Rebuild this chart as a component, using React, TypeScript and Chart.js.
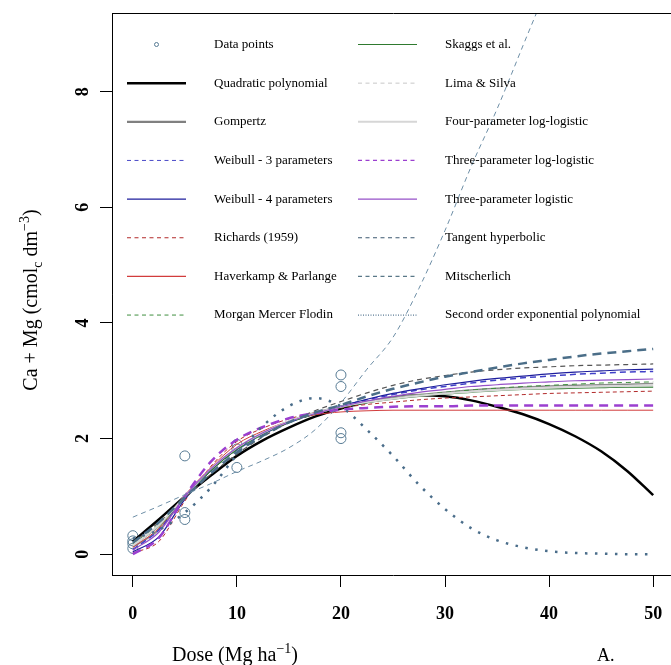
import React, { useEffect, useRef } from "react";
import { Chart, registerables } from "chart.js";

Chart.register(...registerables);

// ---------- data ----------
const doses = [0, 2.5, 5, 7.5, 10, 12.5, 15, 17.5, 20, 22.5, 25, 27.5, 30, 32.5, 35, 37.5, 40, 42.5, 45, 47.5, 50];

const obsDose = [0, 0, 0, 0, 5, 5, 5, 10, 10, 10, 20, 20, 20, 20];
const obsValue = [0.1, 0.18, 0.23, 0.32, 0.6, 0.72, 1.7, 1.5, 1.82, 1.9, 2.0, 2.1, 2.9, 3.1];

const xTicks = [0, 10, 20, 30, 40, 50];
const yTicks = [0, 2, 4, 6, 8];

const quadratic = [0.22, 0.6, 1.0, 1.36, 1.7, 1.97, 2.19, 2.38, 2.52, 2.63, 2.71, 2.75, 2.73, 2.66, 2.55, 2.42, 2.25, 2.04, 1.78, 1.44, 1.02];
const gompertz = [0.12, 0.42, 0.98, 1.45, 1.82, 2.1, 2.3, 2.45, 2.56, 2.64, 2.71, 2.76, 2.8, 2.84, 2.87, 2.89, 2.91, 2.92, 2.93, 2.94, 2.95];
const weibull3 = [0.08, 0.42, 1.0, 1.45, 1.8, 2.07, 2.28, 2.43, 2.56, 2.67, 2.76, 2.84, 2.9, 2.96, 3.01, 3.05, 3.08, 3.11, 3.13, 3.15, 3.16];
const weibull4 = [0.04, 0.3, 0.95, 1.45, 1.82, 2.08, 2.28, 2.43, 2.56, 2.68, 2.78, 2.86, 2.93, 2.99, 3.04, 3.08, 3.12, 3.15, 3.17, 3.19, 3.2];
const richards = [0.02, 0.22, 0.92, 1.52, 1.95, 2.18, 2.34, 2.45, 2.53, 2.59, 2.63, 2.67, 2.7, 2.72, 2.74, 2.76, 2.78, 2.79, 2.8, 2.81, 2.82];
const haverkamp = [0.12, 0.45, 1.02, 1.5, 1.9, 2.13, 2.3, 2.41, 2.46, 2.48, 2.49, 2.49, 2.49, 2.49, 2.49, 2.49, 2.49, 2.49, 2.49, 2.49, 2.49];
const mmf = [0.18, 0.52, 1.0, 1.44, 1.8, 2.07, 2.27, 2.42, 2.55, 2.63, 2.7, 2.75, 2.8, 2.84, 2.87, 2.9, 2.92, 2.94, 2.96, 2.97, 2.98];
const skaggs = [0.15, 0.48, 0.98, 1.45, 1.82, 2.09, 2.29, 2.43, 2.54, 2.62, 2.68, 2.73, 2.77, 2.8, 2.83, 2.85, 2.86, 2.87, 2.88, 2.89, 2.89];
const limaSilva = [0.2, 0.55, 0.97, 1.38, 1.73, 2.03, 2.28, 2.48, 2.64, 2.79, 2.92, 3.02, 3.09, 3.15, 3.19, 3.22, 3.24, 3.26, 3.27, 3.28, 3.29];
const fourPLL = [0.15, 0.5, 1.0, 1.48, 1.84, 2.1, 2.3, 2.44, 2.55, 2.63, 2.69, 2.74, 2.78, 2.81, 2.84, 2.86, 2.88, 2.89, 2.9, 2.91, 2.92];
const threePLL = [0.0, 0.28, 1.0, 1.6, 1.98, 2.2, 2.35, 2.44, 2.5, 2.53, 2.55, 2.56, 2.56, 2.57, 2.57, 2.57, 2.57, 2.57, 2.57, 2.57, 2.57];
const threePL = [0.07, 0.38, 1.0, 1.48, 1.84, 2.1, 2.29, 2.43, 2.55, 2.65, 2.73, 2.8, 2.85, 2.9, 2.93, 2.96, 2.98, 3.0, 3.01, 3.02, 3.03];
const tangentHyp = [0.2, 0.55, 0.98, 1.4, 1.76, 2.05, 2.28, 2.45, 2.58, 2.73, 2.86, 2.97, 3.07, 3.15, 3.23, 3.3, 3.36, 3.42, 3.47, 3.51, 3.55];
const mitscherlich = [0.64, 0.83, 1.03, 1.22, 1.43, 1.62, 1.84, 2.15, 2.62, 3.2, 3.75, 4.6, 5.6, 6.7, 7.7, 8.8, 9.9, 11.1, null, null, null];
const expPoly2 = [0.27, 0.42, 0.72, 1.15, 1.72, 2.22, 2.56, 2.7, 2.55, 2.15, 1.7, 1.2, 0.78, 0.45, 0.24, 0.12, 0.05, 0.02, 0.01, 0.0, 0.0];

const modelNames = [
  "Quadratic polynomial",
  "Gompertz",
  "Weibull - 3 parameters",
  "Weibull - 4 parameters",
  "Richards (1959)",
  "Haverkamp & Parlange",
  "Morgan Mercer Flodin",
  "Skaggs et al.",
  "Lima & Silva",
  "Four-parameter log-logistic",
  "Three-parameter log-logistic",
  "Three-parameter logistic",
  "Tangent hyperbolic",
  "Mitscherlich",
  "Second order exponential polynomial",
];
const modelValues = [quadratic, gompertz, weibull3, weibull4, richards, haverkamp, mmf, skaggs, limaSilva, fourPLL, threePLL, threePL, tangentHyp, mitscherlich, expPoly2];

// ---------- styles ----------
const pointColor = "#567a93";
const plotColors = ["#000000", "#8c8c8c", "#4040c8", "#1e1e9c", "#b22a2a", "#d23c3c", "#3e8e3e", "#2f7a2f", "#555555", "#d6d6d6", "#9b3fd0", "#9650c8", "#4b6e88", "#6d8ea6", "#4a6d8a"];
const plotWidths = [2.5, 1.5, 1.5, 1.2, 1, 1, 1, 1.2, 1.2, 2, 2.5, 1.2, 2.5, 1, 2.5];
const plotDashes = [[], [], [6, 4], [], [4, 3], [], [5, 4], [], [5, 4], [], [9, 6], [], [9, 6], [5, 4], [2.5, 7.5]];
const legendColors = ["#000000", "#808080", "#4a4ac8", "#1e1e9c", "#b22a2a", "#d23c3c", "#3e8e3e", "#2f7a2f", "#c8c8c8", "#d6d6d6", "#9b3fd0", "#9650c8", "#3e5a72", "#5a7888", "#5a7a94"];
const legendWidths = [2.5, 2.2, 1, 1.2, 1, 1.3, 1, 1.2, 1, 2, 1.3, 1.3, 1.2, 1.2, 1.2];
const legendDashes = [[], [], [4, 3.5], [], [4, 3.5], [], [4, 3.5], [], [4, 3.5], [], [4, 3.5], [], [4, 3.5], [4, 3.5], [1, 1.5]];

const SERIF = "'Liberation Serif', 'Times New Roman', serif";

type Seg = { t: string; size: number; dy: number };

function drawRich(ctx: CanvasRenderingContext2D, segs: Seg[], x: number, y: number) {
  let cx = x;
  for (const s of segs) {
    ctx.font = `${s.size}px ${SERIF}`;
    ctx.fillText(s.t, cx, y + s.dy);
    cx += ctx.measureText(s.t).width;
  }
}
function richWidth(ctx: CanvasRenderingContext2D, segs: Seg[]) {
  let w = 0;
  for (const s of segs) {
    ctx.font = `${s.size}px ${SERIF}`;
    w += ctx.measureText(s.t).width;
  }
  return w;
}

const decorPlugin = {
  id: "decor",
  afterDatasetsDraw(chart: any) {
    const ctx: CanvasRenderingContext2D = chart.ctx;
    const a = chart.chartArea;
    ctx.save();
    // box
    ctx.strokeStyle = "#000";
    ctx.lineWidth = 1;
    ctx.setLineDash([]);
    ctx.beginPath();
    ctx.moveTo(Math.round(a.left) + 0.5, Math.round(a.bottom) + 0.5);
    ctx.lineTo(Math.round(a.left) + 0.5, Math.round(a.top) + 0.5);
    ctx.lineTo(Math.round(a.right) + 0.5, Math.round(a.top) + 0.5);
    ctx.stroke();

    // legend
    const cols = [
      { x0: a.left + 15, x1: a.left + 74, tx: a.left + 102 },
      { x0: a.left + 246, x1: a.left + 305, tx: a.left + 333 },
    ];
    const rowY = (r: number) => a.top + 31.5 + r * 38.65;
    const items = ["Data points", ...modelNames];
    items.forEach((label, i) => {
      const col = cols[Math.floor(i / 8)];
      const y = rowY(i % 8);
      if (i === 0) {
        ctx.setLineDash([]);
        ctx.strokeStyle = pointColor;
        ctx.lineWidth = 1;
        ctx.beginPath();
        ctx.arc((col.x0 + col.x1) / 2, y, 2, 0, Math.PI * 2);
        ctx.stroke();
      } else {
        const k = i - 1;
        ctx.setLineDash(legendDashes[k]);
        ctx.strokeStyle = legendColors[k];
        ctx.lineWidth = legendWidths[k];
        ctx.beginPath();
        ctx.moveTo(col.x0, y);
        ctx.lineTo(col.x1, y);
        ctx.stroke();
      }
      ctx.setLineDash([]);
      ctx.fillStyle = "#000";
      ctx.font = `13px ${SERIF}`;
      ctx.textAlign = "left";
      ctx.textBaseline = "middle";
      ctx.fillText(label, col.tx, y);
    });
    ctx.restore();
  },
  afterDraw(chart: any) {
    const ctx: CanvasRenderingContext2D = chart.ctx;
    ctx.save();
    ctx.fillStyle = "#000";
    ctx.textAlign = "left";
    ctx.textBaseline = "alphabetic";
    // x title
    drawRich(
      ctx,
      [
        { t: "Dose (Mg ha", size: 20, dy: 0 },
        { t: "\u22121", size: 14, dy: -8 },
        { t: ")", size: 20, dy: 0 },
      ],
      172,
      661
    );
    // panel letter
    ctx.font = `18px ${SERIF}`;
    ctx.fillText("A.", 597, 661);
    // y title (rotated)
    const ySegs: Seg[] = [
      { t: "Ca + Mg (cmol", size: 20, dy: 0 },
      { t: "c", size: 14, dy: 5 },
      { t: " dm", size: 20, dy: 0 },
      { t: "\u22123", size: 14, dy: -8 },
      { t: ")", size: 20, dy: 0 },
    ];
    const w = richWidth(ctx, ySegs);
    ctx.translate(37, 300 + w / 2);
    ctx.rotate(-Math.PI / 2);
    drawRich(ctx, ySegs, 0, 0);
    ctx.restore();
  },
};

export default function App() {
  const ref = useRef<HTMLCanvasElement | null>(null);

  useEffect(() => {
    document.body.style.margin = "0";
    const canvas = ref.current;
    if (!canvas) return;

    const modelSets = modelValues.map((vals, k) => ({
      label: modelNames[k],
      data: doses
        .map((d, i) => ({ x: d, y: vals[i] }))
        .filter((p) => p.y !== null && p.y !== undefined),
      showLine: true,
      borderColor: plotColors[k],
      backgroundColor: plotColors[k],
      borderWidth: plotWidths[k],
      borderDash: plotDashes[k],
      borderCapStyle: "butt" as const,
      pointRadius: 0,
      pointHoverRadius: 0,
      cubicInterpolationMode: "monotone" as const,
      fill: false,
      order: modelValues.length - k,
    }));

    const pointSet = {
      label: "Data points",
      data: obsDose.map((d, i) => ({ x: d, y: obsValue[i] })),
      showLine: false,
      pointStyle: "circle" as const,
      pointRadius: 5,
      pointBorderWidth: 1,
      borderColor: pointColor,
      pointBorderColor: pointColor,
      backgroundColor: "rgba(0,0,0,0)",
      pointBackgroundColor: "rgba(0,0,0,0)",
      order: 100,
    };

    const tickFont = { family: SERIF, size: 18, weight: "bold" as const };

    const chart = new Chart(canvas, {
      type: "scatter",
      data: { datasets: [pointSet, ...modelSets] as any },
      plugins: [decorPlugin],
      options: {
        animation: false,
        responsive: false,
        events: [],
        layout: { padding: { top: 13, right: 5, left: 0, bottom: 0 } },
        plugins: {
          legend: { display: false },
          tooltip: { enabled: false },
          title: { display: false },
        },
        scales: {
          x: {
            type: "linear",
            position: "bottom",
            min: -2,
            max: 52,
            border: { display: true, color: "#000", width: 1 },
            grid: { drawOnChartArea: false, drawTicks: true, tickLength: 12, color: "#000", tickWidth: 1 },
            ticks: {
              font: tickFont,
              color: "#000",
              padding: 17,
              maxRotation: 0,
              autoSkip: false,
              includeBounds: false,
            },
            afterBuildTicks: (s: any) => {
              s.ticks = xTicks.map((v) => ({ value: v }));
            },
            afterFit: (s: any) => {
              s.height = 90;
              s.paddingLeft = 0;
              s.paddingRight = 0;
            },
          },
          y: {
            type: "linear",
            position: "left",
            min: -0.36,
            max: 9.36,
            border: { display: true, color: "#000", width: 1 },
            grid: { drawOnChartArea: false, drawTicks: true, tickLength: 12, color: "#000", tickWidth: 1 },
            ticks: {
              font: tickFont,
              color: "#000",
              padding: 12,
              minRotation: 90,
              maxRotation: 90,
              crossAlign: "center",
              autoSkip: false,
              includeBounds: false,
            },
            afterBuildTicks: (s: any) => {
              s.ticks = yTicks.map((v) => ({ value: v }));
            },
            afterFit: (s: any) => {
              s.width = 112;
              s.paddingTop = 0;
              s.paddingBottom = 0;
            },
          },
        },
      } as any,
    });

    return () => {
      chart.destroy();
    };
  }, []);

  return (
    <div style={{ width: 671, height: 665, overflow: "hidden", position: "relative", background: "#fff" }}>
      <canvas ref={ref} width={680} height={665} style={{ display: "block", width: 680, height: 665 }} />
    </div>
  );
}
